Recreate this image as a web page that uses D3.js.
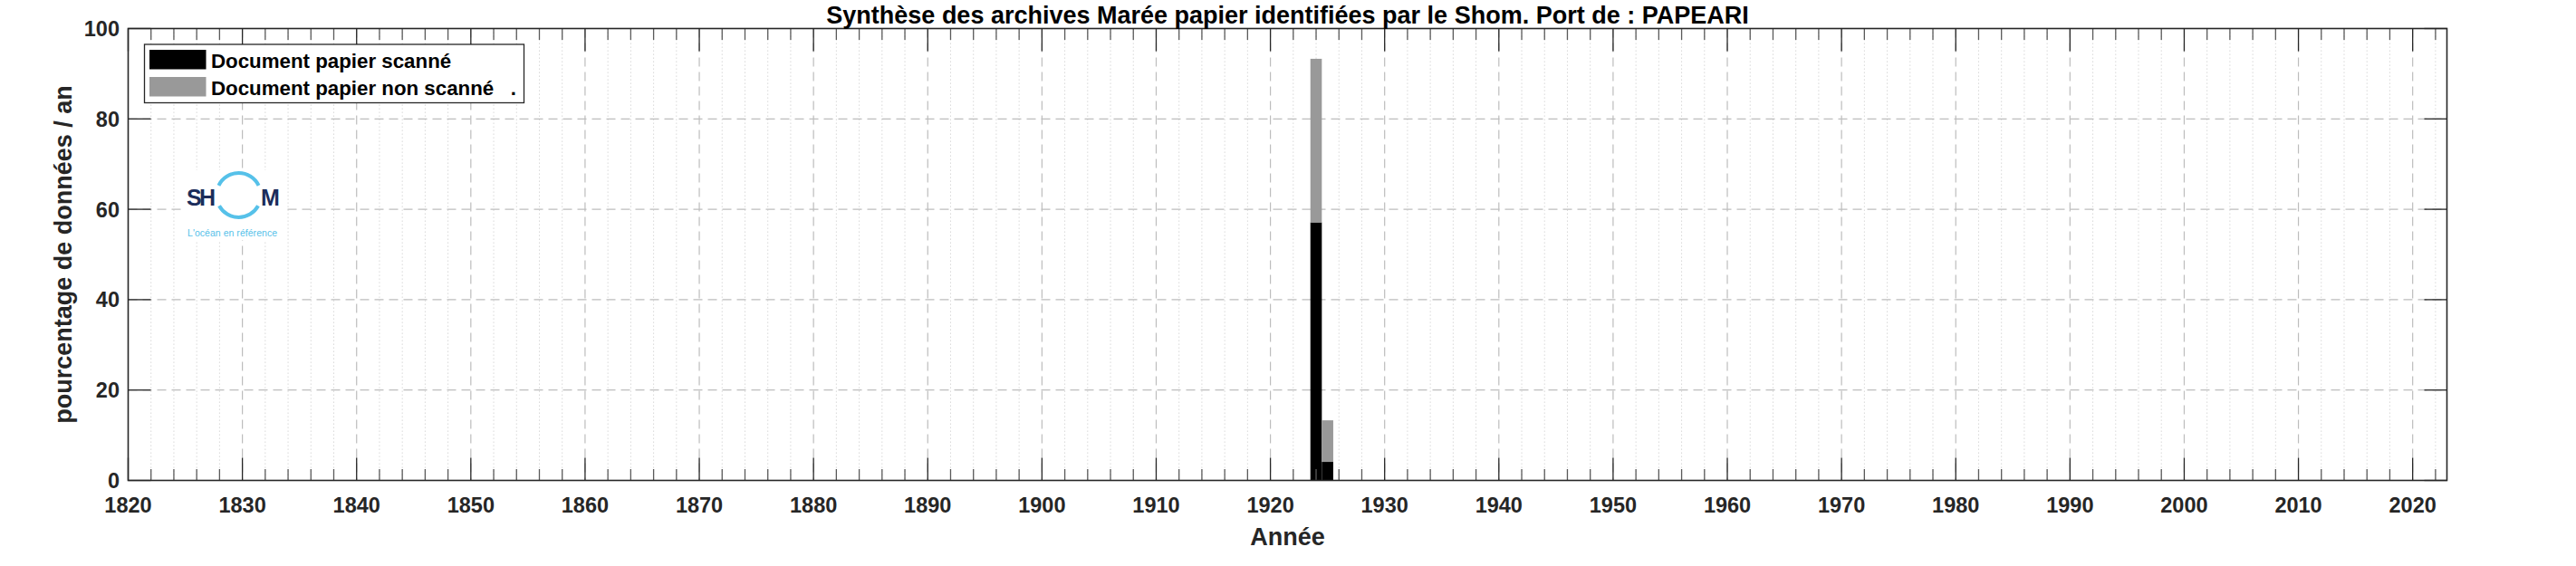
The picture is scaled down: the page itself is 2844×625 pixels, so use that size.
<!DOCTYPE html>
<html>
<head>
<meta charset="utf-8">
<script src="https://cdn.jsdelivr.net/npm/d3@7"></script>
<style>
  html, body { margin: 0; padding: 0; background: #fff; }
  svg { display: block; }
  text { font-family: "Liberation Sans", Arial, Helvetica, sans-serif; }
</style>
</head>
<body>
<svg id="chart" width="2844" height="625"></svg>
<script>
// ---------------- DATA ----------------
const years = [1924, 1925];
const scanned = [57.1, 4.1];        // Document papier scanné (%)
const nonScanned = [36.2, 9.2];     // Document papier non scanné (%)
const seriesNames = ["Document papier scanné", "Document papier non scanné   ."];
const seriesColors = ["#000000", "#999999"];
const xTickValues = [1820, 1830, 1840, 1850, 1860, 1870, 1880, 1890, 1900, 1910, 1920, 1930, 1940, 1950, 1960, 1970, 1980, 1990, 2000, 2010, 2020];
const yTickValues = [0, 20, 40, 60, 80, 100];
const xDomain = [1820, 2023];
const yDomain = [0, 100];
const titleText = "Synthèse des archives Marée papier identifiées par le Shom. Port de : PAPEARI";
const xLabel = "Année";
const yLabel = "pourcentage de données / an";

// ---------------- LAYOUT ----------------
const L = 141.5, R = 2701.5, T = 31.5, B = 530.5;
const svg = d3.select("#chart");
svg.append("rect").attr("width", 2844).attr("height", 625).attr("fill", "#fff");

const x = d3.scaleLinear().domain(xDomain).range([L, R]);
const y = d3.scaleLinear().domain(yDomain).range([B, T]);

const minorX = d3.range(xDomain[0], xDomain[1] + 1, 2).filter(v => v % 10 !== 0);

// ---------------- GRID ----------------
const grid = svg.append("g");
grid.selectAll(".gminor").data(minorX).join("line")
  .attr("x1", d => x(d)).attr("x2", d => x(d)).attr("y1", T).attr("y2", B)
  .attr("stroke", "#d2d2d2").attr("stroke-width", 1).attr("stroke-dasharray", "1.3,2.7");
grid.selectAll(".gmajx").data(xTickValues.filter(v => v > xDomain[0])).join("line")
  .attr("x1", d => x(d)).attr("x2", d => x(d)).attr("y1", T).attr("y2", B)
  .attr("stroke", "#bdbdbd").attr("stroke-width", 1.2).attr("stroke-dasharray", "10,6");
grid.selectAll(".gmajy").data(yTickValues.filter(v => v > 0 && v < 100)).join("line")
  .attr("x1", L).attr("x2", R).attr("y1", d => y(d)).attr("y2", d => y(d))
  .attr("stroke", "#bdbdbd").attr("stroke-width", 1.2).attr("stroke-dasharray", "10,6");

// ---------------- LOGO ----------------
const logo = svg.append("g");
logo.append("rect").attr("x", 200).attr("y", 188).attr("width", 112).attr("height", 77).attr("fill", "#fff");
logo.append("text").attr("x", 206).attr("y", 227).attr("font-size", 25).attr("font-weight", "bold")
  .attr("fill", "#1b2d5b").attr("textLength", 32).text("SH");
const arc = d3.arc().innerRadius(22.5).outerRadius(26.5);
const ringG = logo.append("g").attr("transform", "translate(263.5,215.5)");
ringG.append("path").attr("d", arc({startAngle: -Math.PI / 2 + 0.45, endAngle: Math.PI / 2 - 0.45})).attr("fill", "#56c1e9");
ringG.append("path").attr("d", arc({startAngle: Math.PI / 2 + 0.5, endAngle: 3 * Math.PI / 2 - 0.5})).attr("fill", "#56c1e9");
logo.append("text").attr("x", 288).attr("y", 227).attr("font-size", 25).attr("font-weight", "bold")
  .attr("fill", "#1b2d5b").attr("textLength", 19).text("M");
logo.append("text").attr("x", 207).attr("y", 261).attr("font-size", 10.5)
  .attr("fill", "#56c1e9").attr("textLength", 99).text("L'océan en référence");

// ---------------- BARS ----------------
const rows = years.map((yr, i) => ({ year: yr, s0: scanned[i], s1: nonScanned[i] }));
const stack = d3.stack().keys(["s0", "s1"]);
const stacked = stack(rows);
const barsG = svg.append("g");
stacked.forEach((layer, li) => {
  barsG.selectAll(".b" + li).data(layer).join("rect")
    .attr("x", d => x(d.data.year - 0.5))
    .attr("width", d => x(d.data.year + 0.5) - x(d.data.year - 0.5))
    .attr("y", d => y(d[1]))
    .attr("height", d => y(d[0]) - y(d[1]))
    .attr("fill", seriesColors[li]);
});

// ---------------- TICKS & AXES ----------------
const ax = svg.append("g");
const majorLen = 25, minorLen = 12.5;
ax.selectAll(".tbM").data(xTickValues).join("line")
  .attr("x1", d => x(d)).attr("x2", d => x(d)).attr("y1", B).attr("y2", B - majorLen)
  .attr("stroke", "#262626").attr("stroke-width", 1.3);
ax.selectAll(".ttM").data(xTickValues).join("line")
  .attr("x1", d => x(d)).attr("x2", d => x(d)).attr("y1", T).attr("y2", T + majorLen)
  .attr("stroke", "#262626").attr("stroke-width", 1.3);
ax.selectAll(".tbm").data(minorX).join("line")
  .attr("x1", d => x(d)).attr("x2", d => x(d)).attr("y1", B).attr("y2", B - minorLen)
  .attr("stroke", "#5a5a5a").attr("stroke-width", 1.3);
ax.selectAll(".ttm").data(minorX).join("line")
  .attr("x1", d => x(d)).attr("x2", d => x(d)).attr("y1", T).attr("y2", T + minorLen)
  .attr("stroke", "#5a5a5a").attr("stroke-width", 1.3);
ax.selectAll(".tyl").data(yTickValues).join("line")
  .attr("x1", L).attr("x2", L + majorLen).attr("y1", d => y(d)).attr("y2", d => y(d))
  .attr("stroke", "#262626").attr("stroke-width", 1.3);
ax.selectAll(".tyr").data(yTickValues).join("line")
  .attr("x1", R).attr("x2", R - majorLen).attr("y1", d => y(d)).attr("y2", d => y(d))
  .attr("stroke", "#262626").attr("stroke-width", 1.3);
ax.append("rect").attr("x", L).attr("y", T).attr("width", R - L).attr("height", B - T)
  .attr("fill", "none").attr("stroke", "#262626").attr("stroke-width", 1.6);

ax.selectAll(".xl").data(xTickValues).join("text")
  .attr("x", d => x(d)).attr("y", 566).attr("text-anchor", "middle")
  .attr("font-size", 23.5).attr("font-weight", "bold").attr("fill", "#262626")
  .text(d => d);
ax.selectAll(".yl").data(yTickValues).join("text")
  .attr("x", 132).attr("y", d => y(d) + 8.5).attr("text-anchor", "end")
  .attr("font-size", 23.5).attr("font-weight", "bold").attr("fill", "#262626")
  .text(d => d);

svg.append("text").attr("x", (L + R) / 2).attr("y", 602).attr("text-anchor", "middle")
  .attr("font-size", 27).attr("font-weight", "bold").attr("fill", "#262626").text(xLabel);
svg.append("text").attr("transform", `translate(79,${(T + B) / 2}) rotate(-90)`)
  .attr("text-anchor", "middle")
  .attr("font-size", 27).attr("font-weight", "bold").attr("fill", "#262626").text(yLabel);

svg.append("text").attr("x", (L + R) / 2).attr("y", 26).attr("text-anchor", "middle")
  .attr("font-size", 27).attr("font-weight", "bold").attr("fill", "#000").text(titleText);

// ---------------- LEGEND ----------------
const lg = svg.append("g");
lg.append("rect").attr("x", 159.5).attr("y", 49).attr("width", 419).attr("height", 64.5)
  .attr("fill", "#fff").attr("stroke", "#262626").attr("stroke-width", 1.3);
seriesNames.forEach((name, i) => {
  const top = 55 + i * 30;
  lg.append("rect").attr("x", 165).attr("y", top).attr("width", 62.5).attr("height", 21.5)
    .attr("fill", seriesColors[i]);
  lg.append("text").attr("x", 233).attr("y", top + 20).attr("font-size", 22.3)
    .attr("font-weight", "bold").attr("fill", "#000")
    .style("white-space", "pre").text(name);
});
</script>
</body>
</html>
